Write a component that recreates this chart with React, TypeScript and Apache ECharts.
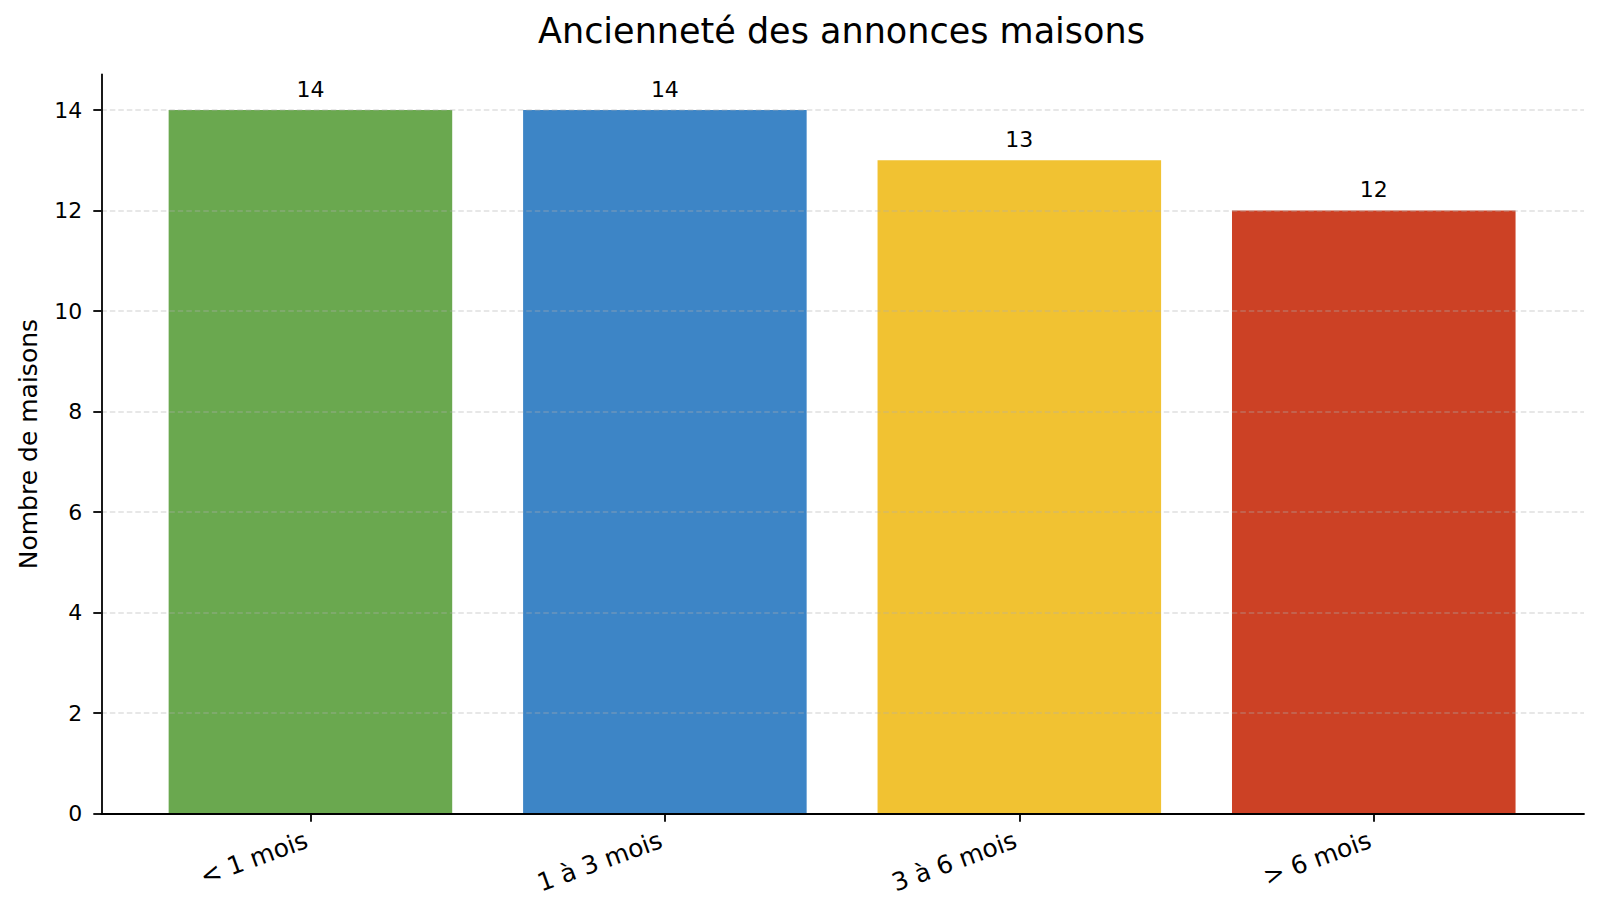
import React, { useEffect, useRef } from "react";
import * as echarts from "echarts";

const categories = ["< 1 mois", "1 à 3 mois", "3 à 6 mois", "> 6 mois"];
const values = [14, 14, 13, 12];
const barColors = ["#6aa84f", "#3d85c6", "#f1c232", "#cc4125"];
const yMax = 14;
const yInterval = 2;

const FONT = "DejaVu Sans";

export default function App() {
  const ref = useRef<HTMLDivElement>(null);
  useEffect(() => {
    if (!ref.current) return;
    const chart = echarts.init(ref.current, null, { renderer: "svg" });
    const bottom = 103.3;
    const topFull = 74.5;
    const topMax = 110.1;
    const option: any = {
      animation: false,
      backgroundColor: "#ffffff",
      textStyle: { fontFamily: FONT, color: "#000" },
      title: {
        text: "Ancienneté des annonces maisons",
        left: 533,
        top: 8,
        textStyle: { fontFamily: FONT, fontSize: 35, fontWeight: "normal", color: "#000" },
      },
      grid: [
        { left: 101.3, right: 16, top: topFull, bottom },
        { left: 133.2, right: 49, top: topMax, bottom },
        { left: 101.3, right: 16, top: topMax, bottom },
      ],
      xAxis: [
        {
          gridIndex: 0,
          type: "value",
          min: 0,
          max: 1,
          z: 4,
          axisLine: { show: true, onZero: false, lineStyle: { color: "#000", width: 1.8 } },
          axisTick: { show: false },
          axisLabel: { show: false },
          splitLine: { show: false },
        },
        {
          gridIndex: 1,
          type: "category",
          data: categories,
          z: 4,
          axisLine: { show: false },
          axisTick: { show: true, alignWithLabel: true, length: 8, lineStyle: { color: "#000", width: 1.8 } },
          axisLabel: {
            interval: 0,
            rotate: 20,
            fontSize: 25,
            color: "#000",
            fontFamily: FONT,
            margin: 24,
            padding: [0, 4, 0, 0],
          },
        },
        {
          gridIndex: 2,
          type: "value",
          min: 0,
          max: 1,
          show: false,
        },
      ],
      yAxis: [
        {
          gridIndex: 0,
          type: "value",
          min: 0,
          max: 1,
          z: 4,
          name: "Nombre de maisons",
          nameLocation: "middle",
          nameGap: 60,
          nameTextStyle: { fontSize: 25, color: "#000", fontFamily: FONT },
          axisLine: { show: true, onZero: false, lineStyle: { color: "#000", width: 1.8 } },
          axisTick: { show: false },
          axisLabel: { show: false },
          splitLine: { show: false },
        },
        {
          gridIndex: 1,
          type: "value",
          min: 0,
          max: yMax,
          show: false,
        },
        {
          gridIndex: 2,
          type: "value",
          min: 0,
          max: yMax,
          interval: yInterval,
          z: 3,
          axisLine: { show: false },
          axisTick: { show: true, length: 8, lineStyle: { color: "#000", width: 1.8 } },
          axisLabel: { fontSize: 22, color: "#000", fontFamily: FONT, margin: 19 },
          splitLine: {
            show: true,
            lineStyle: { color: "rgba(176,176,176,0.3)", width: 1.8, type: [5.5, 3] },
          },
        },
      ],
      series: [
        {
          type: "bar",
          xAxisIndex: 1,
          yAxisIndex: 1,
          barCategoryGap: "20%",
          data: values.map((v, i) => ({ value: v, itemStyle: { color: barColors[i] } })),
          label: {
            show: true,
            position: "top",
            distance: 10,
            fontSize: 22,
            color: "#000",
            fontFamily: FONT,
          },
        },
      ],
    };
    chart.setOption(option);
    return () => chart.dispose();
  }, []);
  return (
    <div
      ref={ref}
      style={{ position: "fixed", left: 0, top: 0, width: 1600, height: 917, background: "#fff" }}
    />
  );
}
